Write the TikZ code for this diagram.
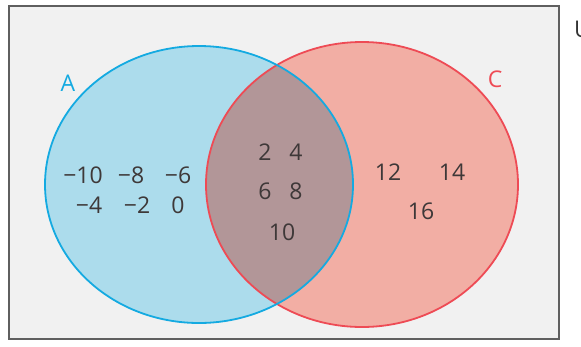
\documentclass[tikz,border=0pt]{standalone}
\usepackage{fontspec}
\setmainfont{Open Sans}
\definecolor{frame}{RGB}{95,95,95}
\definecolor{panel}{RGB}{241,241,241}
\definecolor{blueline}{RGB}{20,170,225}
\definecolor{bluefill}{RGB}{172,220,236}
\definecolor{redline}{RGB}{238,75,85}
\definecolor{redfill}{RGB}{242,174,164}
\definecolor{bothfill}{RGB}{178,150,152}
\definecolor{numtext}{RGB}{62,56,56}
\tikzset{
  num/.style={text=numtext, font=\fontsize{23}{23}\selectfont, inner sep=0pt, anchor=center},
  setlabel/.style={font=\fontsize{23}{23}\selectfont, inner sep=0pt, anchor=center},
  setA/.style={x radius=154, y radius=138.5},
  setC/.style={x radius=156, y radius=142.5},
}
\begin{document}
\begin{tikzpicture}[x=1pt,y=-1pt]
  \useasboundingbox (0,0) rectangle (581,346);
  % universal set
  \node[draw=frame, line width=1.6pt, fill=panel, minimum width=550pt, minimum height=333pt, inner sep=0pt, anchor=north west] (U) at (8,5) {};
  \node[inner sep=0pt, anchor=west, text=black!80, font=\fontsize{23}{23}\selectfont] (Ulabel) at (574,29) {U};
  % set fills
  \coordinate (cA) at (199,184.5);
  \coordinate (cC) at (362,184.5);
  \fill[bluefill] (cA) ellipse [setA];
  \fill[redfill] (cC) ellipse [setC];
  \begin{scope}
    \clip (cA) ellipse [setA];
    \fill[bothfill] (cC) ellipse [setC];
  \end{scope}
  % set outlines
  \draw[redline, line width=1.8pt] (cC) ellipse [setC];
  \draw[blueline, line width=1.8pt] (cA) ellipse [setA];
  % set names
  \node[setlabel, text=blueline] (A) at (68,83) {A};
  \node[setlabel, text=redline] (C) at (495,79) {C};
  % elements of A only
  \node[num] (m10) at (83,175) {−10};
  \node[num] (m8) at (131,175) {−8};
  \node[num] (m6) at (178,175) {−6};
  \node[num] (m4) at (89,205) {−4};
  \node[num] (m2) at (137,205) {−2};
  \node[num] (z0) at (178,205) {0};
  % elements of both
  \node[num] (p2) at (265,152) {2};
  \node[num] (p4) at (296,152) {4};
  \node[num] (p6) at (265,191) {6};
  \node[num] (p8) at (296,191) {8};
  \node[num] (p10) at (282,232) {10};
  % elements of C only
  \node[num] (p12) at (388,172) {12};
  \node[num] (p14) at (452,172) {14};
  \node[num] (p16) at (421,211) {16};
\end{tikzpicture}
\end{document}
